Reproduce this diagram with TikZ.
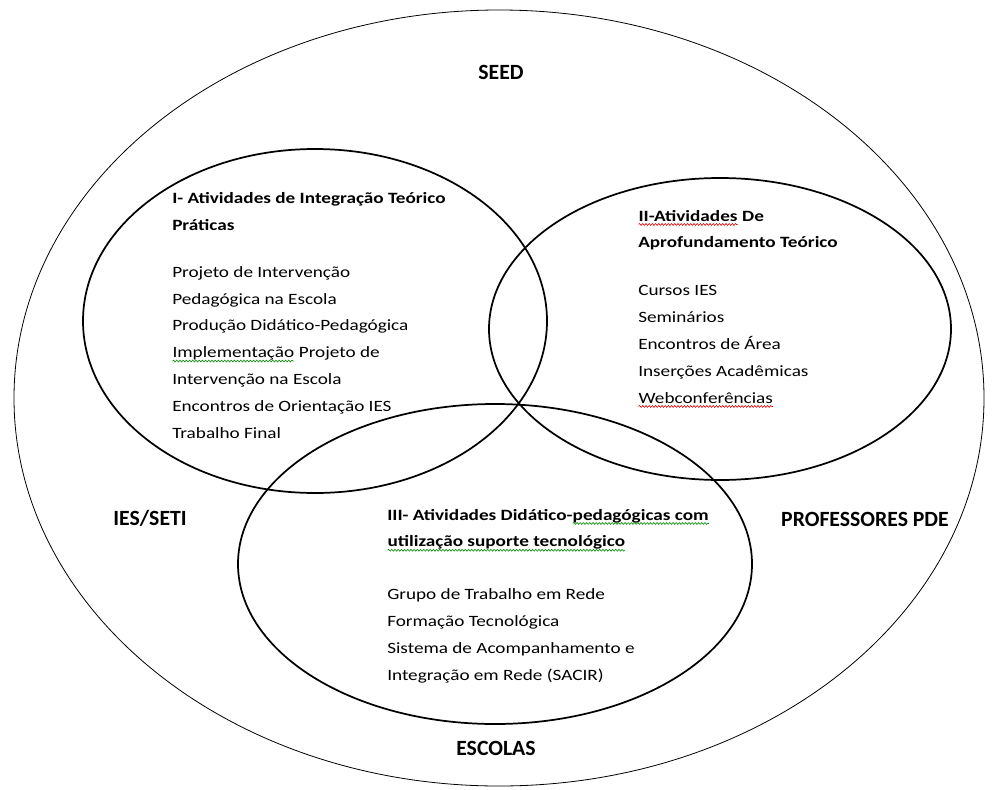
\documentclass[tikz,border=0pt]{standalone}
\usepackage{fontspec}
\setmainfont{Carlito}
\newfontfamily\bodyfont{Carlito}[FakeStretch=1.22]
\usetikzlibrary{shapes.geometric, decorations.pathmorphing}

\newcommand{\txtfont}{\bodyfont\fontsize{11.8}{20.1}\selectfont}
\newcommand{\actorfont}{\rmfamily\bfseries\fontsize{16.3}{20}\selectfont}
% wavy marks under some words, as in the original
\newcommand{\wavy}[2]{\tikz[baseline=(w.base)]{\node[inner sep=0pt, outer sep=0pt] (w) {#2};
    \draw[#1, line width=0.45pt, decorate, decoration={snake, amplitude=0.7pt, segment length=2.4pt}]
        ([yshift=-2.6pt]w.base west) -- ([yshift=-2.6pt]w.base east);}}

\begin{document}
\begin{tikzpicture}[
    x=0.75pt, y=-0.75pt,
    every node/.style={font=\txtfont},
    outer/.style={draw, ellipse, line width=0.6pt, inner sep=0pt},
    ring/.style={draw, ellipse, line width=1.3pt, inner sep=0pt},
    block/.style={align=left, anchor=base west, inner sep=0pt},
    actor/.style={font=\actorfont, anchor=base, inner sep=0pt}
]
\useasboundingbox (0,0) rectangle (992,789);

% circles
\node[outer, minimum width=727.5pt, minimum height=582pt] (rede) at (499,398) {};
\node[ring, minimum width=348pt, minimum height=258pt] (integ) at (315,321) {};
\node[ring, minimum width=346.5pt, minimum height=226.5pt] (aprof) at (720,329) {};
\node[ring, minimum width=385.5pt, minimum height=240pt] (didat) at (495,564) {};

% actors
\node[actor] (seed) at (501,79) {SEED};
\node[actor] (ies) at (150,525) {IES/SETI};
\node[actor] (prof) at (865,526) {PROFESSORES PDE};
\node[actor] (escolas) at (496,755) {ESCOLAS};

% activities (placed at the baseline of their last line)
\node[block] (txtI) at (172,438) {\textbf{I- Atividades de Integração Teórico}\\
    \textbf{Práticas}\\[15.2pt]
    Projeto de Intervenção\\
    Pedagógica na Escola\\
    Produção Didático-Pedagógica\\
    \wavy{green!55!black}{Implementação} Projeto de\\
    Intervenção na Escola\\
    Encontros de Orientação IES\\
    Trabalho Final};
\node[block] (txtII) at (638,403) {\textbf{\wavy{red!85!black}{II-Atividades} De}\\
    \textbf{Aprofundamento Teórico}\\[15.9pt]
    Cursos IES\\
    Seminários\\
    Encontros de Área\\
    Inserções Acadêmicas\\
    \wavy{red!85!black}{Webconferências}};
\node[block] (txtIII) at (387,680) {\textbf{III- Atividades Didático-\wavy{green!55!black}{pedagógicas com}}\\
    \textbf{\wavy{green!55!black}{utilização suporte tecnológico}}\\[19.5pt]
    Grupo de Trabalho em Rede\\
    Formação Tecnológica\\
    Sistema de Acompanhamento e\\
    Integração em Rede (SACIR)};
\end{tikzpicture}
\end{document}
